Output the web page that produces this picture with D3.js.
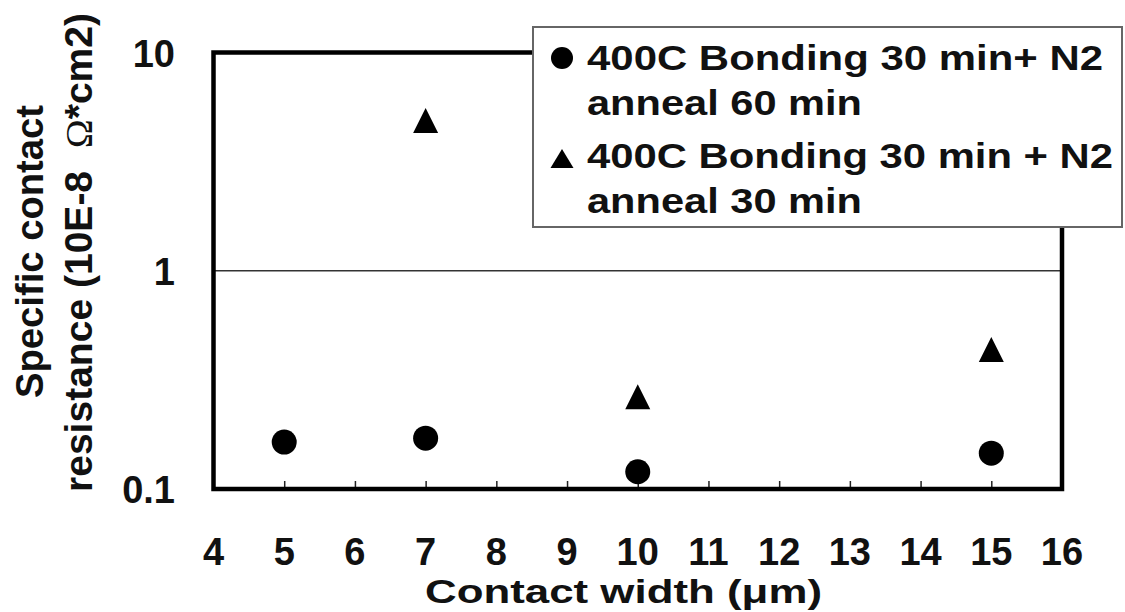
<!DOCTYPE html>
<html>
<head>
<meta charset="utf-8">
<script src="https://cdn.jsdelivr.net/npm/d3@7"></script>
<style>
    body { margin: 0; background: #fff; }
    #chart text { font-family: "Liberation Sans", Arial, sans-serif; font-weight: bold; fill: #111; }
</style>
</head>
<body>
<div id="chart"></div>
<script>
// data
var widths60 = [5, 7, 10, 15];
var res60 = [0.164, 0.171, 0.120, 0.146];
var widths30 = [7, 10, 15];
var res30 = [4.88, 0.265, 0.436];
var xTicks = [4, 5, 6, 7, 8, 9, 10, 11, 12, 13, 14, 15, 16];
var yTicks = [0.1, 1, 10];
var yTickLabels = ["0.1", "1", "10"];
var legendLines = [
    ["400C Bonding 30 min+ N2", "anneal 60 min"],
    ["400C Bonding 30 min + N2", "anneal 30 min"]
];

function chart() {

    var width = 1125,
        height = 612;

    var svg = d3.select("#chart")
        .append("svg")
        .attr("width", width)
        .attr("height", height);

    var x = d3.scaleLinear()
        .domain([4, 16])
        .range([213.5, 1062]);

    var y = d3.scaleLog()
        .domain([0.1, 10])
        .range([489, 52.5]);

    // excel style triangle, box centred on the value
    var triangle = {
        draw: function (context, size) {
            var h = Math.sqrt(size) / 2;
            context.moveTo(0, -h);
            context.lineTo(h, h);
            context.lineTo(-h, h);
            context.closePath();
        }
    };

    // gridline at 1
    svg.append("line")
        .attr("x1", x(4))
        .attr("x2", x(16))
        .attr("y1", y(1))
        .attr("y2", y(1))
        .attr("stroke", "#333")
        .attr("stroke-width", 1.5);

    // small inside ticks on the bottom
    var xAxis = svg.append("g")
        .attr("transform", "translate(0," + y(0.1) + ")")
        .call(d3.axisBottom(x).tickValues(xTicks.slice(1, -1)).tickSizeInner(-8).tickSizeOuter(0).tickFormat(""));
    xAxis.select(".domain").remove();
    xAxis.selectAll(".tick line").attr("stroke", "#222").attr("stroke-width", 1.5);

    // plot frame
    svg.append("rect")
        .attr("x", x(4))
        .attr("y", y(10))
        .attr("width", x(16) - x(4))
        .attr("height", y(0.1) - y(10))
        .attr("fill", "none")
        .attr("stroke", "#000")
        .attr("stroke-width", 4.5);

    // tick labels
    svg.selectAll(".xlab")
        .data(xTicks)
        .enter()
        .append("text")
        .attr("class", "xlab")
        .attr("x", function (d) { return x(d); })
        .attr("y", 565)
        .attr("text-anchor", "middle")
        .style("font-size", "38px")
        .text(function (d) { return d; });

    svg.selectAll(".ylab")
        .data(yTicks)
        .enter()
        .append("text")
        .attr("class", "ylab")
        .attr("x", 175)
        .attr("y", function (d) { return y(d) + 14; })
        .attr("text-anchor", "end")
        .style("font-size", "38px")
        .text(function (d, i) { return yTickLabels[i]; });

    // axis titles
    svg.append("text")
        .attr("x", 425)
        .attr("y", 603)
        .attr("textLength", 397)
        .attr("lengthAdjust", "spacingAndGlyphs")
        .style("font-size", "34px")
        .text("Contact width (\u03bcm)");

    svg.append("text")
        .attr("transform", "translate(43,398) rotate(-90)")
        .attr("textLength", 293)
        .attr("lengthAdjust", "spacingAndGlyphs")
        .style("font-size", "38px")
        .text("Specific contact");

    var yt2 = svg.append("text")
        .attr("transform", "translate(92,492) rotate(-90)")
        .attr("textLength", 479)
        .attr("lengthAdjust", "spacingAndGlyphs")
        .style("font-size", "38px");
    yt2.append("tspan").text("resistance (10E-8");
    yt2.append("tspan").attr("dx", 22)
        .style("font-family", "'Liberation Serif', serif")
        .style("font-weight", "normal")
        .text("\u03a9");
    yt2.append("tspan").text("*cm2)");

    // points
    svg.selectAll(".c60")
        .data(widths60)
        .enter()
        .append("circle")
        .attr("class", "c60")
        .attr("cx", function (d) { return x(d); })
        .attr("cy", function (d, i) { return y(res60[i]); })
        .attr("r", 12.5)
        .attr("fill", "#000");

    svg.selectAll(".t30")
        .data(widths30)
        .enter()
        .append("path")
        .attr("class", "t30")
        .attr("d", d3.symbol().type(triangle).size(625))
        .attr("transform", function (d, i) { return "translate(" + x(d) + "," + y(res30[i]) + ")"; })
        .attr("fill", "#000");

    // legend
    var legend = svg.append("g").attr("class", "legend");

    legend.append("rect")
        .attr("x", 533)
        .attr("y", 27)
        .attr("width", 589)
        .attr("height", 200)
        .attr("fill", "#fff")
        .attr("stroke", "#666")
        .attr("stroke-width", 2);

    legend.append("circle")
        .attr("cx", 562)
        .attr("cy", 58)
        .attr("r", 11)
        .attr("fill", "#000");

    legend.append("path")
        .attr("d", "M0,-10L11.5,9L-11.5,9Z")
        .attr("transform", "translate(562,159)")
        .attr("fill", "#000");

    var baselines = [[70, 115], [168, 213]];
    var lengths = [[516, 275], [526, 275]];

    legendLines.forEach(function (lines, i) {
        lines.forEach(function (t, j) {
            legend.append("text")
                .attr("x", 587)
                .attr("y", baselines[i][j])
                .attr("textLength", lengths[i][j])
                .attr("lengthAdjust", "spacingAndGlyphs")
                .style("font-size", "35px")
                .text(t);
        });
    });
}

chart();
</script>
</body>
</html>
